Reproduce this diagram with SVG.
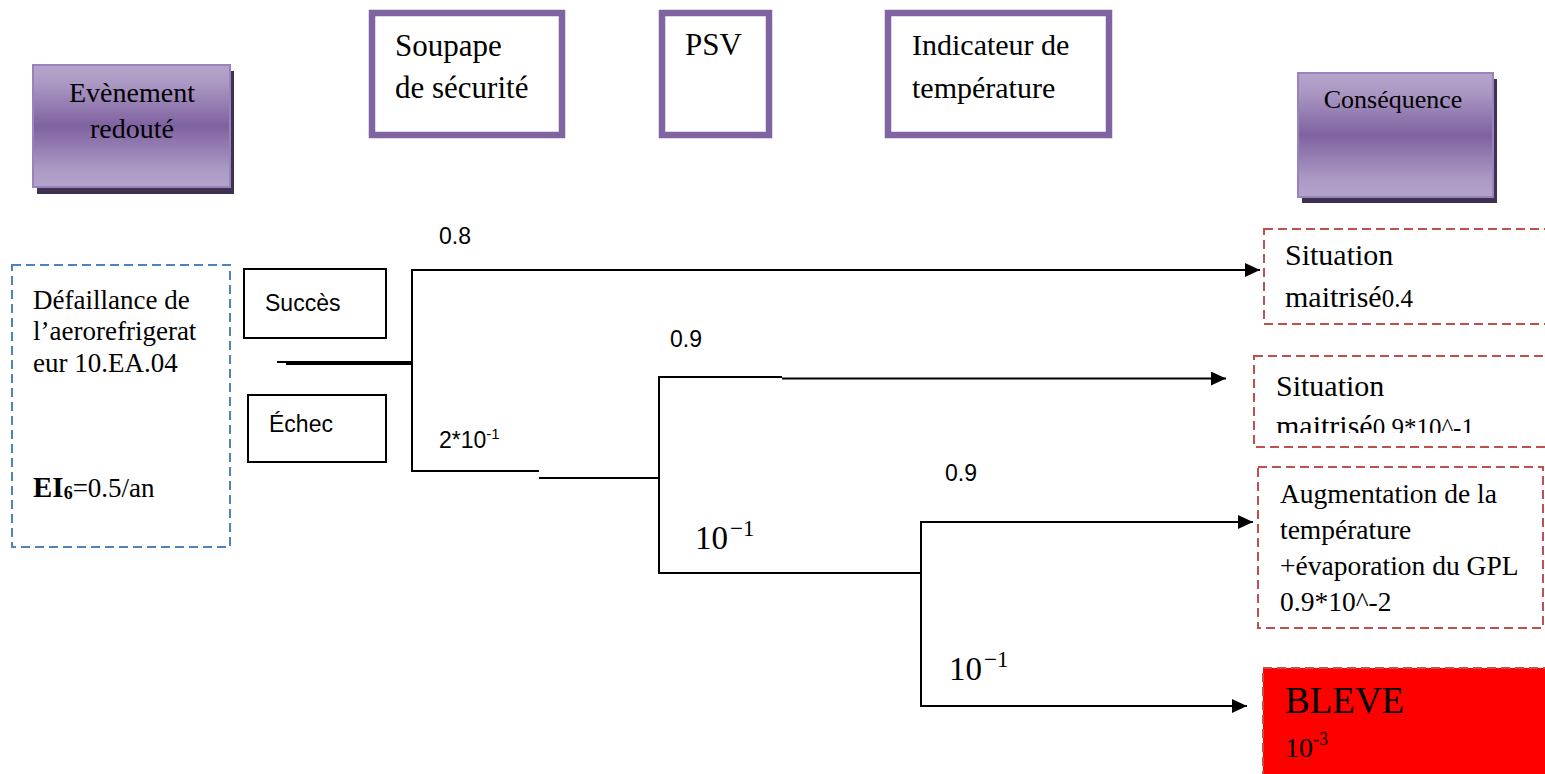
<svg xmlns="http://www.w3.org/2000/svg" width="1545" height="774" viewBox="0 0 1545 774">
  <defs>
    <linearGradient id="purpleFill" x1="0" y1="0" x2="0" y2="1">
      <stop offset="0" stop-color="#b4a4cb"/>
      <stop offset="0.15" stop-color="#ab99c4"/>
      <stop offset="0.5" stop-color="#7f62a1"/>
      <stop offset="0.85" stop-color="#ab99c4"/>
      <stop offset="1" stop-color="#b4a4cb"/>
    </linearGradient>
    <marker id="ah" markerWidth="15" markerHeight="14" refX="15" refY="7" orient="auto" markerUnits="userSpaceOnUse">
      <path d="M0,0 L15,7 L0,14 z" fill="#000"/>
    </marker>
    <clipPath id="clipS2">
      <rect x="1254" y="356" width="291" height="77"/>
    </clipPath>
    <style>
      .serif { font-family: "Liberation Serif", "Times New Roman", serif; fill: #000; }
      .sans { font-family: "Liberation Sans", Arial, sans-serif; fill: #000; }
      .head { fill: url(#purpleFill); stroke: #9a83bb; stroke-width: 2; }
      .shadow { fill: #3f3151; }
      .barrier { fill: #fff; stroke: #8064a2; stroke-width: 6.5; }
      .state { fill: #fff; stroke: #000; stroke-width: 2; }
      .blue { fill: #fff; stroke: #4f81bd; stroke-width: 2; stroke-dasharray: 9 5; }
      .red { fill: #fff; stroke: #c0504d; stroke-width: 2; stroke-dasharray: 9 5; }
      .conn { fill: none; stroke: #000; stroke-width: 2; }
    </style>
  </defs>

  <!-- Column headers -->
  <g id="evenement-redoute">
    <rect class="shadow" x="37" y="71" width="197" height="123"/>
    <rect class="head" x="33" y="65" width="197" height="122"/>
    <text class="serif" font-size="28" x="132" y="102" text-anchor="middle">Evènement</text>
    <text class="serif" font-size="28" x="132" y="138" text-anchor="middle">redouté</text>
  </g>

  <g id="soupape">
    <rect class="barrier" x="372" y="13" width="190" height="122"/>
    <text class="serif" font-size="31" x="395" y="56">Soupape</text>
    <text class="serif" font-size="31" x="395" y="98">de sécurité</text>
  </g>

  <g id="psv">
    <rect class="barrier" x="662" y="13" width="107" height="122"/>
    <text class="serif" font-size="31" x="685" y="55">PSV</text>
  </g>

  <g id="indicateur">
    <rect class="barrier" x="888" y="13" width="221" height="122"/>
    <text class="serif" font-size="30" x="912" y="55">Indicateur de</text>
    <text class="serif" font-size="30" x="912" y="98">température</text>
  </g>

  <g id="consequence">
    <rect class="shadow" x="1302" y="79" width="195" height="124"/>
    <rect class="head" x="1298" y="73" width="195" height="124"/>
    <text class="serif" font-size="26" x="1393" y="108" text-anchor="middle">Conséquence</text>
  </g>

  <!-- Initiating event -->
  <g id="initiateur">
    <rect class="blue" x="12" y="265" width="218" height="282"/>
    <text class="serif" font-size="27" x="33" y="309">Défaillance de</text>
    <text class="serif" font-size="27" x="33" y="340">l’aerorefrigerat</text>
    <text class="serif" font-size="27" x="33" y="372">eur 10.EA.04</text>
    <text class="serif" font-size="27" x="33" y="497"><tspan font-weight="bold" font-size="29">EI</tspan><tspan font-weight="bold" font-size="18" dy="2">6</tspan><tspan dy="-2">=0.5/an</tspan></text>
  </g>

  <!-- Branch states -->
  <g id="succes">
    <rect class="state" x="244" y="269" width="142" height="69"/>
    <text class="sans" font-size="23" x="265" y="311">Succès</text>
  </g>
  <g id="echec">
    <rect class="state" x="248" y="395" width="138" height="67"/>
    <text class="sans" font-size="23" x="269" y="432">Échec</text>
  </g>

  <!-- Outcomes -->
  <g id="situation-1">
    <rect class="red" x="1264" y="229" width="300" height="95"/>
    <text class="serif" font-size="30" x="1285" y="265">Situation</text>
    <text class="serif" font-size="30" x="1285" y="307">maitrisé<tspan font-size="25">0.4</tspan></text>
  </g>

  <g id="situation-2">
    <rect class="red" x="1254" y="356" width="310" height="91"/>
    <g clip-path="url(#clipS2)">
      <text class="serif" font-size="30" x="1276" y="396">Situation</text>
      <text class="serif" font-size="30" x="1276" y="436">maitrisé<tspan font-size="25">0.9*10^-1</tspan></text>
    </g>
  </g>

  <g id="augmentation">
    <rect class="red" x="1258" y="467" width="285" height="161"/>
    <text class="serif" font-size="27.5" x="1280" y="503">Augmentation de la</text>
    <text class="serif" font-size="27.5" x="1280" y="539">température</text>
    <text class="serif" font-size="27.5" x="1280" y="575">+évaporation du GPL</text>
    <text class="serif" font-size="27.5" x="1280" y="611">0.9*10^-2</text>
  </g>

  <g id="bleve">
    <rect x="1263" y="668" width="300" height="120" fill="#ff0000" stroke="#c0504d" stroke-width="2" stroke-dasharray="9 5"/>
    <text class="serif" font-size="37" x="1285" y="713">BLEVE</text>
    <text class="serif" font-size="28" x="1285" y="757">10<tspan font-size="18" dy="-12">-3</tspan></text>
  </g>

  <!-- Event tree connectors -->
  <g id="connectors">
    <line class="conn" x1="277" y1="362" x2="412" y2="362"/>
    <line class="conn" x1="286" y1="364" x2="412" y2="364"/>
    <line class="conn" x1="412" y1="269" x2="412" y2="472"/>
    <line class="conn" x1="411" y1="270" x2="1260" y2="270" marker-end="url(#ah)"/>
    <line class="conn" x1="411" y1="471" x2="539" y2="471"/>
    <line class="conn" x1="539" y1="478" x2="660" y2="478"/>
    <line class="conn" x1="659" y1="376" x2="659" y2="574"/>
    <line class="conn" x1="658" y1="377" x2="782" y2="377"/>
    <line class="conn" x1="782" y1="378.5" x2="1226" y2="378.5" marker-end="url(#ah)"/>
    <line class="conn" x1="658" y1="573" x2="921" y2="573"/>
    <line class="conn" x1="921" y1="521" x2="921" y2="707"/>
    <line class="conn" x1="920" y1="522" x2="1253" y2="522" marker-end="url(#ah)"/>
    <line class="conn" x1="920" y1="706" x2="1247" y2="706" marker-end="url(#ah)"/>
  </g>

  <!-- Branch probabilities -->
  <g id="probabilites">
    <text class="sans" font-size="23" x="439" y="244">0.8</text>
    <text class="sans" font-size="23" x="439" y="448">2*10<tspan font-size="15" dy="-9">-1</tspan></text>
    <text class="sans" font-size="23" x="670" y="347">0.9</text>
    <text class="sans" font-size="23" x="945" y="481">0.9</text>
    <text class="serif" font-size="33" x="695" y="549">10<tspan font-size="23" dx="2" dy="-13">−1</tspan></text>
    <text class="serif" font-size="33" x="949" y="680">10<tspan font-size="23" dx="2" dy="-13">−1</tspan></text>
  </g>
</svg>
